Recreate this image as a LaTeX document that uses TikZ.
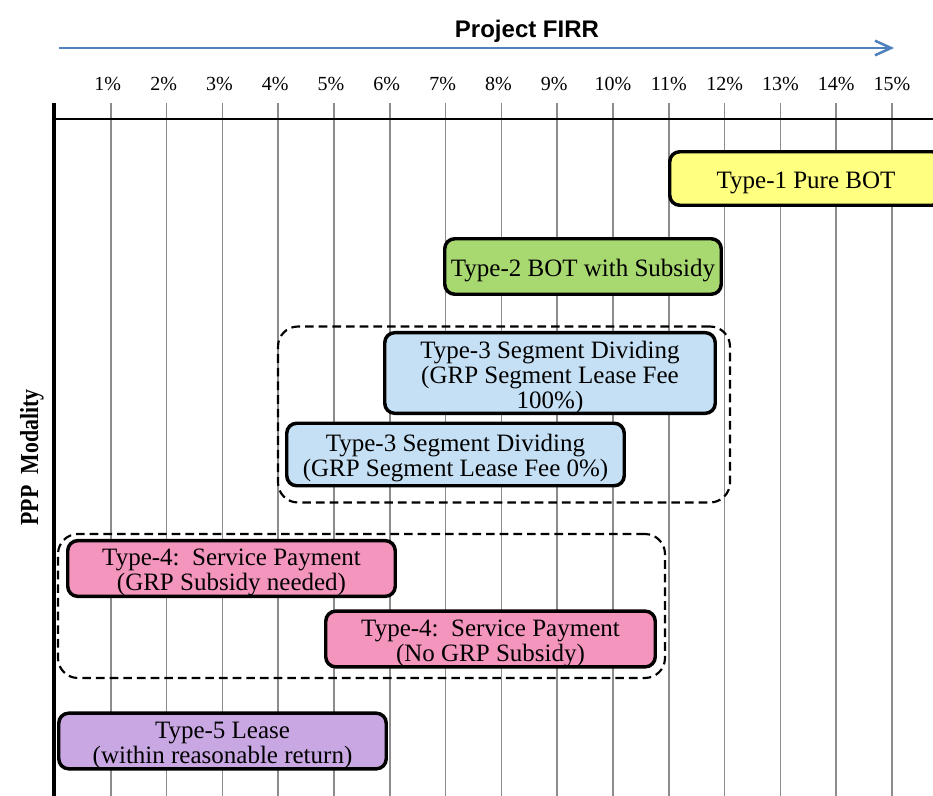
\documentclass[tikz,border=0pt]{standalone}
\usepackage{fontspec}
\setmainfont{Liberation Serif}
\newfontfamily\headfont{Liberation Sans}
\usetikzlibrary{arrows.meta}

\definecolor{axisblue}{HTML}{4F81BD}
\definecolor{gridgray}{HTML}{8C8C8C}
\definecolor{fillyellow}{HTML}{FFFF80}
\definecolor{fillgreen}{HTML}{A8D870}
\definecolor{fillblue}{HTML}{C5E0F4}
\definecolor{fillpink}{HTML}{F495BE}
\definecolor{fillpurple}{HTML}{C9A7E3}

\newdimen\pxu
\pxu=0.75pt
% extra head room above the first text line of a box
\newcommand\headroom{\rule{0pt}{19pt}}

\tikzset{
  gridline/.style={draw=gridgray, line width=1.1pt},
  pctlabel/.style={anchor=base, inner sep=0pt, font=\fontsize{15pt}{15pt}\selectfont},
  modebox/.style={draw=black, line width=2.6pt, rounded corners=7.5pt, align=center,
    inner sep=0pt, font=\fontsize{18.75pt}{18.75pt}\selectfont},
  groupbox/.style={draw=black, line width=1.6pt, dash pattern=on 6.5pt off 3.75pt,
    rounded corners=15pt, inner sep=0pt},
}

\begin{document}
\begin{tikzpicture}[x=0.75pt,y=-0.75pt]
\useasboundingbox (0,0) rectangle (933,796);
\clip (0,0) rectangle (933,796);

% vertical grid, one line per percent
\foreach \k in {1,...,15}
  \draw[gridline] ({55+55.8*\k},103) -- ({55+55.8*\k},796);

% axes
\draw[line width=1.9pt] (54,119) -- (933,119);
\draw[line width=2.6pt] (54,103) -- (54,796);

% FIRR arrow and title
\coordinate (arrowstart) at (59,48);
\coordinate (arrowend) at (894,48);
\draw[axisblue, line width=1.9pt, -{Straight Barb[length=12pt, width=11pt, line width=1.9pt]}]
  (arrowstart) -- (arrowend);
\node[anchor=base, inner sep=0pt, font=\headfont\bfseries\fontsize{18pt}{18pt}\selectfont]
  (title) at (527,37) {Project FIRR};

% percent labels
\foreach \k in {1,...,9}
  \node[pctlabel] (pct\k) at ({52+55.8*\k},90) {\k\%};
\foreach \k in {10,...,15}
  \node[pctlabel] (pct\k) at ({55+55.8*\k},90) {\k\%};

% vertical axis title
\node[anchor=base, rotate=90, inner sep=0pt] (ylabel) at (38,457.5)
  {\scalebox{0.84}[1]{\fontsize{19.5pt}{19.5pt}\selectfont\bfseries PPP\ \ Modality}};

% grouping frames
\node[groupbox, minimum width=452\pxu, minimum height=176\pxu] (group3) at (504,414.5) {};
\node[groupbox, minimum width=607\pxu, minimum height=144\pxu] (group4) at (361.5,606) {};

% modality boxes
\node[modebox, fill=fillyellow, minimum width=272.5\pxu, minimum height=53.5\pxu]
  (type1) at (806,178.5) {\headroom Type-1 Pure BOT};
\node[modebox, fill=fillgreen, minimum width=276.5\pxu, minimum height=55.5\pxu]
  (type2) at (583,266.5) {\headroom Type-2 BOT with Subsidy};
\node[modebox, fill=fillblue, minimum width=330.5\pxu, minimum height=76.5\pxu]
  (type3a) at (550,373) {\headroom Type-3 Segment Dividing\\(GRP Segment Lease Fee\\100\%)};
\node[modebox, fill=fillblue, minimum width=337.5\pxu, minimum height=62.5\pxu]
  (type3b) at (455.5,454.5) {\headroom Type-3 Segment Dividing\\(GRP Segment Lease Fee 0\%)};
\node[modebox, fill=fillpink, minimum width=327.5\pxu, minimum height=53.5\pxu]
  (type4a) at (231.5,568.5) {\headroom Type-4:\ \ Service Payment\\(GRP Subsidy needed)};
\node[modebox, fill=fillpink, minimum width=329.5\pxu, minimum height=54.5\pxu]
  (type4b) at (490.5,639) {\headroom Type-4:\ \ Service Payment\\(No GRP Subsidy)};
\node[modebox, fill=fillpurple, minimum width=327.5\pxu, minimum height=54.5\pxu]
  (type5) at (222.5,741) {\headroom Type-5 Lease\\(within reasonable return)};
\end{tikzpicture}
\end{document}
